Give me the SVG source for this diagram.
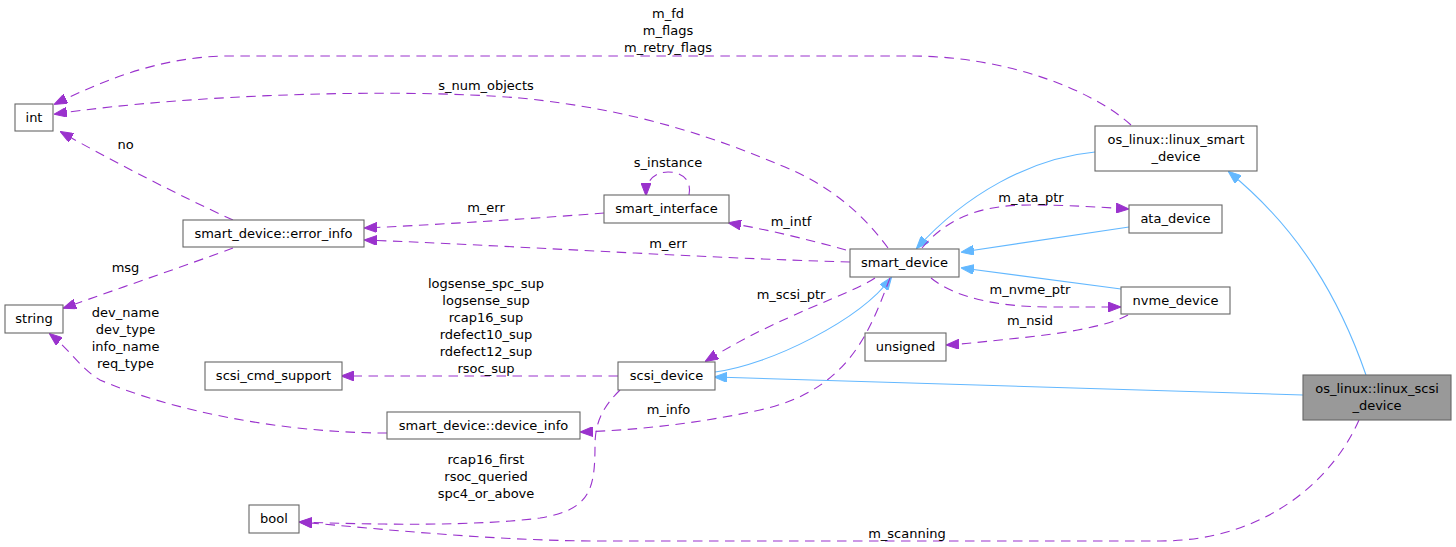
<svg xmlns="http://www.w3.org/2000/svg" width="1456" height="547" viewBox="0 0 1456 547">
<defs>
<style>
text{font-family:"DejaVu Sans","Liberation Sans",sans-serif;font-size:13px;fill:#000;text-anchor:middle}
.n rect{fill:#fff;stroke:#666;stroke-width:1.1}
.n.main rect{fill:#999}
.u{fill:none;stroke:#9a32cd;stroke-width:1.1;stroke-dasharray:9.5,6.5;marker-end:url(#ap)}
.i{fill:none;stroke:#63b8ff;stroke-width:1.1;marker-end:url(#ab)}
</style>
<marker id="ap" viewBox="0 0 13 10" refX="12" refY="5" markerWidth="13" markerHeight="10" markerUnits="userSpaceOnUse" orient="auto"><path d="M0,0L13,5L0,10z" fill="#9a32cd" stroke="#9a32cd" stroke-width="1"/></marker>
<marker id="ab" viewBox="0 0 13 10" refX="12" refY="5" markerWidth="13" markerHeight="10" markerUnits="userSpaceOnUse" orient="auto"><path d="M0,0L13,5L0,10z" fill="#63b8ff" stroke="#63b8ff" stroke-width="1"/></marker>
</defs>
<rect width="1456" height="547" fill="#fff"/>
<g id="connectors">
<path class="u" d="M1131,125 C1095,92 1010,56 910,56 L230,56 C160,56 100,82 55,104"/>
<path class="u" d="M888,248 C862,213 830,185 780,165 C720,140 640,110 520,98 C400,88 190,94 55,114"/>
<path class="u" d="M233,220 C180,196 110,160 61,132"/>
<path class="u" d="M233,248 C190,264 120,288 64,308"/>
<path class="u" d="M604,213 C540,218 450,224 365,228"/>
<path class="u" d="M850,262 C700,258 500,245 365,240"/>
<path class="u" d="M846,250 C810,240 770,230 729,223"/>
<path class="u" d="M689,195 C692,180 682,172 668,172 C655,172 646,180 646,195"/>
<path class="u" d="M875,278 C850,295 780,315 706,361"/>
<path class="i" d="M715,372 C770,365 860,320 891,278"/>
<path class="u" d="M890,278 C870,330 850,390 760,410 C700,423 640,430 581,432"/>
<path class="u" d="M618,376 L342,376"/>
<path class="u" d="M620,390 C605,405 595,420 595,445 C595,490 590,510 540,518 C480,526 380,525 300,522"/>
<path class="u" d="M1359,420 C1335,475 1270,541 1160,541 L600,541 C500,541 390,530 300,522"/>
<path class="i" d="M1303,395 L715,377"/>
<path class="i" d="M1366,375 C1340,300 1300,230 1229,172"/>
<path class="i" d="M1095,152 C1030,158 965,195 917,248"/>
<path class="i" d="M1129,227 L962,252"/>
<path class="i" d="M1121,289 L962,268"/>
<path class="u" d="M922,248 C950,215 985,205 1030,205 C1065,205 1100,207 1128,209"/>
<path class="u" d="M931,278 C955,298 1000,307 1050,307 C1080,307 1100,307 1120,307"/>
<path class="u" d="M1128,315 C1100,330 1040,336 1000,340 C980,342 965,344 947,345"/>
<path class="u" d="M387,433 C280,433 170,410 100,380 C80,368 70,350 50,334"/>
<text x="668" y="18">m_fd</text>
<text x="668" y="35">m_flags</text>
<text x="668" y="52">m_retry_flags</text>
<text x="486" y="90">s_num_objects</text>
<text x="668" y="167">s_instance</text>
<text x="125.5" y="149">no</text>
<text x="486" y="212">m_err</text>
<text x="668" y="248">m_err</text>
<text x="791" y="226">m_intf</text>
<text x="125.5" y="272">msg</text>
<text x="125.5" y="317">dev_name</text>
<text x="125.5" y="334">dev_type</text>
<text x="125.5" y="351">info_name</text>
<text x="125.5" y="368">req_type</text>
<text x="486" y="288">logsense_spc_sup</text>
<text x="486" y="305">logsense_sup</text>
<text x="486" y="322">rcap16_sup</text>
<text x="486" y="339">rdefect10_sup</text>
<text x="486" y="356">rdefect12_sup</text>
<text x="486" y="373">rsoc_sup</text>
<text x="791" y="299">m_scsi_ptr</text>
<text x="1031" y="202">m_ata_ptr</text>
<text x="1030" y="294">m_nvme_ptr</text>
<text x="1030" y="325">m_nsid</text>
<text x="668.5" y="414">m_info</text>
<text x="486" y="464">rcap16_first</text>
<text x="486" y="481">rsoc_queried</text>
<text x="486" y="498">spc4_or_above</text>
<text x="907" y="538">m_scanning</text>
</g>
<g id="node-int" class="n"><rect x="15" y="104" width="38" height="27"/><text x="34" y="122">int</text></g>
<g id="node-string" class="n"><rect x="5" y="305" width="58" height="28"/><text x="34" y="323">string</text></g>
<g id="node-error-info" class="n"><rect x="183" y="220" width="181" height="27"/><text x="273.5" y="238">smart_device::error_info</text></g>
<g id="node-scsi-cmd-support" class="n"><rect x="205" y="362" width="137" height="28"/><text x="273.5" y="380">scsi_cmd_support</text></g>
<g id="node-device-info" class="n"><rect x="387" y="412" width="193" height="27"/><text x="483.5" y="430">smart_device::device_info</text></g>
<g id="node-bool" class="n"><rect x="249" y="505" width="50" height="28"/><text x="274" y="523">bool</text></g>
<g id="node-smart-interface" class="n"><rect x="604" y="195" width="125" height="28"/><text x="666.5" y="213">smart_interface</text></g>
<g id="node-scsi-device" class="n"><rect x="618" y="362" width="97" height="28"/><text x="666.5" y="380">scsi_device</text></g>
<g id="node-smart-device" class="n"><rect x="850" y="249" width="109" height="28"/><text x="904.5" y="267">smart_device</text></g>
<g id="node-ata-device" class="n"><rect x="1129" y="205" width="93" height="28"/><text x="1175.5" y="223">ata_device</text></g>
<g id="node-nvme-device" class="n"><rect x="1121" y="287" width="109" height="27"/><text x="1175.5" y="305">nvme_device</text></g>
<g id="node-unsigned" class="n"><rect x="865" y="333" width="81" height="28"/><text x="905.5" y="351">unsigned</text></g>
<g id="node-linux-smart-device" class="n"><rect x="1095" y="126" width="162" height="45"/><text x="1176" y="144">os_linux::linux_smart</text><text x="1176" y="161">_device</text></g>
<g id="node-linux-scsi-device" class="n main"><rect x="1303" y="375" width="148" height="45"/><text x="1377" y="393">os_linux::linux_scsi</text><text x="1377" y="410">_device</text></g>
</svg>
